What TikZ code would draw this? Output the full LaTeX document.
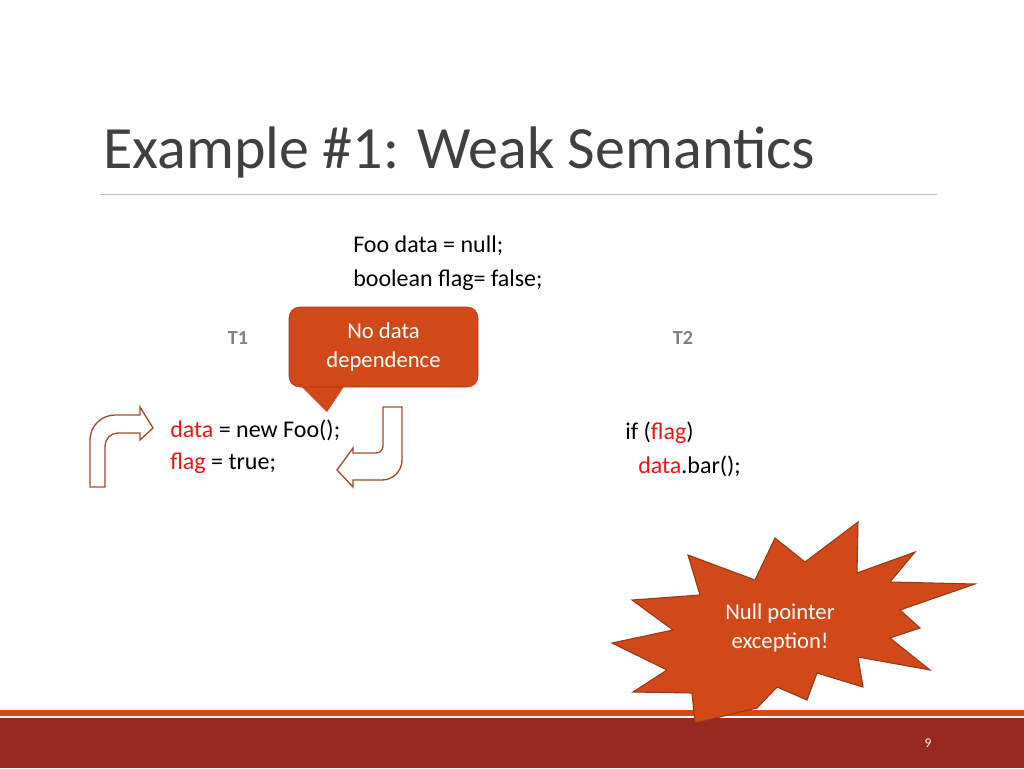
\documentclass[tikz,border=0pt]{standalone}
\usepackage{fontspec}
\setmainfont{Carlito}
\usetikzlibrary{positioning}
\definecolor{accent}{RGB}{209,73,25}
\definecolor{barred}{RGB}{152,41,32}
\definecolor{codered}{RGB}{240,20,20}
\definecolor{arrowline}{RGB}{165,75,45}
\definecolor{titlegray}{RGB}{64,64,64}
\tikzset{
  code/.style={anchor=west,inner sep=0pt,font=\fontsize{18}{22}\selectfont},
  thread/.style={font=\fontsize{15}{18}\selectfont\bfseries,text=gray},
  bent/.style={draw=arrowline,line width=1pt,fill=white,line join=miter},
}
\newcommand{\hl}[1]{\textcolor{codered}{#1}}
\begin{document}
\begin{tikzpicture}[x=0.75pt,y=-0.75pt]
  \useasboundingbox (0,0) rectangle (1024,768);

  % title
  \node (title) [anchor=west,inner sep=0pt,text=titlegray,font=\fontsize{45}{50}\selectfont] at (103,152) {Example \#1: Weak Semantics};
  \draw [gray!50,line width=0.6pt] (100,194) -- (937,194);

  % shared declarations
  \node (decl1) [code] at (353,246) {Foo data = null;};
  \node (decl2) [code] at (353,280) {boolean flag= false;};

  \node (t1) [thread] at (238,338) {T1};
  \node (t2) [thread] at (683,338) {T2};

  % callout
  \fill [accent] (300,385) -- (327,412) -- (345,385) -- cycle;
  \node (callout) [fill=accent,draw=accent!80!black,rounded corners=8pt,minimum width=189*0.75pt,minimum height=80*0.75pt,
        align=center,text=white,font=\fontsize{17}{22}\selectfont] at (383.5,347) {No data\\dependence};

  % thread 1 code
  \node (w1) [code] at (170,430) {\hl{data} = new Foo();};
  \node (w2) [code] at (170,463) {\hl{flag} = true;};

  % thread 2 code
  \node (r1) [code] at (625,433) {if (\hl{flag})};
  \node (r2) [code] at (638,466) {\hl{data}.bar();};

  % bent arrows
  \draw [bent] (90,487) -- (90,440) arc (180:270:25) -- (140,415) -- (140,407) -- (153,428)
        -- (140,440) -- (140,433) -- (118,433) arc (270:180:13) -- (105,487) -- cycle;
  \draw [bent] (383,407) -- (402,407) -- (402,460) arc (0:90:20) -- (353,480) -- (353,487) -- (337,470)
        -- (353,448) -- (353,453) -- (376,453) arc (90:0:7) -- cycle;

  % footer
  \fill [accent] (0,710) rectangle (1024,716);
  \fill [barred] (0,718) rectangle (1024,768);
  \node (page) [text=white,font=\fontsize{10}{12}\selectfont] at (928,743) {9};

  % starburst
  \filldraw [fill=accent,draw=accent!75!black,line width=0.8pt]
    (858,522) -- (857,573) -- (915,552) -- (890,582) -- (975,584) -- (900,610) -- (920,628)
    -- (890,638) -- (930,670) -- (858,657) -- (863,687) -- (817,673) -- (807,700) -- (777,687)
    -- (757,708) -- (695,723) -- (692,693) -- (633,692) -- (667,670) -- (612,643) -- (673,630)
    -- (632,600) -- (700,595) -- (688,555) -- (755,580) -- (775,538) -- (805,562) -- cycle;
  \node (npe) [align=center,text=white,font=\fontsize{17}{22}\selectfont] at (780,628) {Null pointer\\exception!};
\end{tikzpicture}
\end{document}
